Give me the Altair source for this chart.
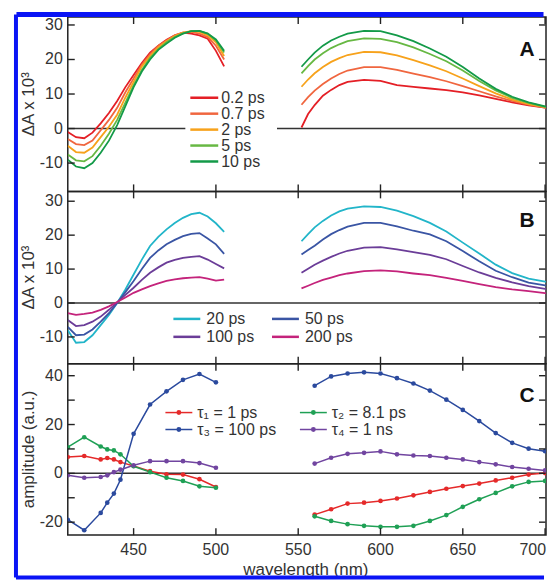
import altair as alt
import pandas as pd

FONT = "Liberation Sans"
TXT = "#333333"
FRAME = "#222222"

# ---------------- data ----------------
wl_left = [410, 415, 420, 425, 430, 435, 440, 445, 450, 455, 460, 465, 470, 475, 480, 485, 490, 495, 500, 505]
wl_right = [552, 556, 560, 565, 570, 575, 580, 590, 600, 610, 620, 630, 640, 650, 660, 670, 680, 690, 700, 710]

A_names = ["0.2 ps", "0.7 ps", "2 ps", "5 ps", "10 ps"]
A_colors = ["#e41f26", "#f0663f", "#f7a21b", "#67b843", "#139a48"]
A_left = {
    "0.2 ps": [-1, -2.5, -2.8, -1.2, 1.5, 4.5, 8, 12, 15.5, 19, 22, 24, 25.7, 27, 27.8, 27.5, 27, 26, 22.5, 18],
    "0.7 ps": [-3, -4.5, -4.8, -3.5, -0.5, 2.5, 6, 10.5, 14.5, 18.5, 21.5, 24, 25.5, 27, 27.8, 28, 27.5, 26.5, 24, 20],
    "2 ps": [-5, -6.8, -7, -5.5, -2.5, 0.5, 4, 9, 13.5, 18, 21, 23.5, 25.3, 26.8, 27.8, 28.2, 28, 27, 25, 21],
    "5 ps": [-7.5, -9.2, -9.5, -8, -5, -1.5, 2.5, 7.5, 12.5, 17, 20.5, 23, 25, 26.5, 27.6, 28.2, 28.3, 27.5, 25.5, 22],
    "10 ps": [-9, -11, -11.5, -10, -7, -3.5, 1, 6.5, 12, 16.5, 20, 22.8, 24.6, 26.3, 27.5, 28.2, 28.3, 27.5, 25.8, 22.5],
}
A_right = {
    "0.2 ps": [0.3, 4.2, 6.8, 9.5, 11.2, 12.6, 13.5, 14.1, 13.8, 12.6, 12.1, 11.6, 11.1, 10.5, 9.6, 8.6, 7.6, 6.7, 6.1, 5.8],
    "0.7 ps": [6.9, 9.1, 11, 12.9, 14.5, 15.8, 16.8, 17.8, 17.8, 17, 15.9, 14.9, 13.7, 12.3, 10.8, 9.3, 8, 6.9, 6.1, 5.8],
    "2 ps": [12.1, 14.2, 16, 17.8, 19.3, 20.4, 21.3, 22.2, 22.1, 21.2, 19.8, 18.3, 16.6, 14.5, 12.3, 10.2, 8.4, 7.1, 6.2, 5.8],
    "5 ps": [16, 18.1, 20, 21.8, 23.3, 24.4, 25.3, 26.1, 26, 25, 23.5, 21.6, 19.5, 16.8, 13.8, 11, 8.9, 7.4, 6.3, 5.8],
    "10 ps": [17.9, 20, 22, 24, 25.5, 26.6, 27.5, 28.3, 28.2, 27, 25.3, 23.2, 20.8, 17.8, 14.5, 11.5, 9.2, 7.6, 6.4, 5.8],
}

B_names = ["20 ps", "50 ps", "100 ps", "200 ps"]
B_colors = ["#22b5c9", "#3a55a4", "#6b3d98", "#c4237b"]
B_left = {
    "20 ps": [-8, -11.7, -11.5, -9.5, -6.5, -3.5, 0, 4, 8.4, 12.8, 16.8, 19.5, 21.7, 23.6, 25.1, 26.2, 26.6, 25.5, 23.5, 21],
    "50 ps": [-7, -9.5, -9.3, -7.8, -5.5, -3, 0, 3.2, 6.5, 10, 13.3, 15.5, 17.3, 18.6, 19.7, 20.4, 20.6, 19, 17.3, 14.5],
    "100 ps": [-5, -6.8, -6.5, -5.5, -4, -2, 0.2, 2.4, 4.5, 6.8, 8.9, 10.5, 11.9, 12.7, 13.3, 13.6, 13.8, 12.8, 11.5, 10.2],
    "200 ps": [-3, -3.5, -3.2, -2.8, -2, -1, 0.3, 1.6, 3, 4, 5, 5.8, 6.5, 7, 7.3, 7.5, 7.6, 7.2, 6.6, 6.9],
}
B_right = {
    "20 ps": [18.2, 20.3, 22.3, 24.2, 25.8, 27, 27.8, 28.5, 28.3, 27.2, 25.6, 23.6, 21.1, 17.8, 14.6, 11.3, 8.8, 7.2, 6.3, 5.8],
    "50 ps": [14.3, 15.6, 16.9, 18.7, 20.3, 21.5, 22.5, 23.6, 23.6, 22.6, 21.3, 20.2, 18.2, 15.3, 12.3, 9.5, 7.6, 6, 5.2, 4.8],
    "100 ps": [8.9, 10.1, 11.3, 12.5, 13.6, 14.6, 15.4, 16.3, 16.5, 15.8, 15, 14.2, 12.9, 10.9, 9, 7.4, 6.1, 5, 4.2, 3.8],
    "200 ps": [4.3, 5.1, 5.9, 6.8, 7.5, 8.2, 8.7, 9.4, 9.6, 9.3, 8.7, 8.2, 7.4, 6.5, 5.6, 4.7, 4, 3.5, 2.9, 2.6],
}

C_names = ["τ₁ = 1 ps", "τ₂ = 8.1 ps", "τ₃ = 100 ps", "τ₄ = 1 ns"]
C_colors = ["#e52a2a", "#1fa055", "#2b4a9e", "#7145a0"]
wl_C_left = [410, 420, 430, 434, 438, 442, 450, 460, 470, 480, 490, 500]
wl_C_right = [560, 570, 580, 590, 600, 610, 620, 630, 640, 650, 660, 670, 680, 690, 700, 710]
C_left = {
    "τ₁ = 1 ps": [6.7, 7.1, 5.7, 6.3, 5.7, 4.6, 3.0, 0.9, -0.4, -0.5, -2.4, -5.6],
    "τ₂ = 8.1 ps": [10.7, 14.8, 11, 9.8, 9.4, 7.8, 2.9, 0.5, -1.8, -3.1, -5.3, -5.9],
    "τ₃ = 100 ps": [-19, -23.3, -16.2, -12, -8.3, -2.6, 16.2, 28.2, 33.6, 38.3, 40.7, 37.3],
    "τ₄ = 1 ns": [-0.8, -1.8, -1.5, -0.8, 0.5, 1.5, 3.3, 5.0, 5.0, 5.0, 4.2, 2.3],
}
C_right = {
    "τ₁ = 1 ps": [-16.9, -14.7, -12.4, -12, -11.3, -10.3, -9, -7.6, -6.3, -5.2, -4.2, -2.9, -1.8, -0.5, 0.1, 0.3],
    "τ₂ = 8.1 ps": [-17.6, -19.5, -20.8, -21.5, -21.9, -21.9, -21.5, -19.5, -17.1, -13.7, -10.6, -8, -5.3, -3.5, -3.1, -1.8],
    "τ₃ = 100 ps": [35.9, 39.7, 40.9, 41.4, 40.9, 39, 36.8, 33.9, 30.2, 26, 21.4, 16.5, 12.5, 10.1, 9.1, 7.5],
    "τ₄ = 1 ns": [4.0, 6.4, 8.0, 8.4, 9.0, 7.8, 7.3, 7.1, 6.4, 5.7, 4.6, 3.7, 2.6, 1.9, 1.2, 0.5],
}

x_ticks = [450, 500, 550, 600, 650, 700]
x_label_vals = [450, 500, 550, 600, 650]
x_labels = ["450", "500", "550", "600", "650"]
x_last_label = "700"
yA_ticks = [-10, 0, 10, 20, 30]
yA_labels = ["-10", "0", "10", "20", "30"]
yB_ticks = [-10, 0, 10, 20, 30]
yB_labels = ["-10", "0", "10", "20", "30"]
yC_ticks = [-20, -10, 0, 10, 20, 30, 40]
yC_label_vals = [-20, 0, 20, 40]
yC_labels = ["-20", "0", "20", "40"]


def long_df(names, wl_l, left, wl_r, right):
    rows = []
    for n in names:
        for w, v in zip(wl_l, left[n]):
            rows.append({"series": n, "seg": n + "_L", "wl": w, "v": v})
        for w, v in zip(wl_r, right[n]):
            rows.append({"series": n, "seg": n + "_R", "wl": w, "v": v})
    return pd.DataFrame(rows)


dfA = long_df(A_names, wl_left, A_left, wl_right, A_right)
dfB = long_df(B_names, wl_left, B_left, wl_right, B_right)
dfC = long_df(C_names, wl_C_left, C_left, wl_C_right, C_right)

# ---------------- layout ----------------
W = 480
XS = alt.Scale(domain=[410, 700.56], nice=False, zero=False)
LABEL_FS = 16
LEG_FS = 16
TITLE_FS = 17
ONE = pd.DataFrame({"a": [0]})


def decorations(ys, h, yt, ylab_vals, ylab_txt, ytitle, letter, ly):
    xt = pd.DataFrame({"t": x_ticks})
    ytd = pd.DataFrame({"t": yt})
    tick = dict(color=FRAME, strokeWidth=1.4)
    top = alt.Chart(xt).mark_rule(**tick).encode(
        x=alt.X("t:Q", scale=XS, axis=None), y=alt.value(0), y2=alt.value(7))
    bot = alt.Chart(xt).mark_rule(**tick).encode(
        x=alt.X("t:Q", scale=XS, axis=None), y=alt.value(h - 7), y2=alt.value(h))
    left = alt.Chart(ytd).mark_rule(**tick).encode(
        y=alt.Y("t:Q", scale=ys, axis=None), x=alt.value(0), x2=alt.value(7))
    right = alt.Chart(ytd).mark_rule(**tick).encode(
        y=alt.Y("t:Q", scale=ys, axis=None), x=alt.value(W - 7), x2=alt.value(W - 0.5))
    zero = alt.Chart(pd.DataFrame({"z": [0]})).mark_rule(color=TXT, strokeWidth=1.5).encode(
        y=alt.Y("z:Q", scale=ys, axis=None))
    ylabels = alt.Chart(pd.DataFrame({"t": ylab_vals, "s": ylab_txt})).mark_text(
        font=FONT, fontSize=LABEL_FS, color=TXT, align="right", baseline="middle").encode(
        y=alt.Y("t:Q", scale=ys, axis=None), x=alt.value(-5), text="s:N")
    ytitle_m = alt.Chart(pd.DataFrame({"s": [ytitle]})).mark_text(
        font=FONT, fontSize=TITLE_FS, color=TXT, angle=270, align="center", baseline="middle").encode(
        text="s:N", x=alt.value(-39), y=alt.value(h / 2))
    lab = alt.Chart(pd.DataFrame({"t": [letter]})).mark_text(
        font=FONT, fontSize=21, fontWeight="bold", color="#111111").encode(
        text="t:N", x=alt.value(461), y=alt.value(ly))
    return zero, [top, bot, left, right, ylabels, ytitle_m, lab]


def legend(names, colors, col_x, line_len, gap, y0, dy, ncol, dot=False, sw=2.5):
    out = []
    for i, (n, c) in enumerate(zip(names, colors)):
        col, row = i % ncol, i // ncol
        x0 = col_x[col]
        y = y0 + row * dy
        out.append(alt.Chart(ONE).mark_rule(color=c, strokeWidth=sw).encode(
            x=alt.value(x0), x2=alt.value(x0 + line_len), y=alt.value(y)))
        if dot:
            out.append(alt.Chart(ONE).mark_point(filled=True, size=24, opacity=1, color=c).encode(
                x=alt.value(x0 + line_len / 2), y=alt.value(y)))
        out.append(alt.Chart(ONE).mark_text(text=n, font=FONT, fontSize=LEG_FS, color=TXT,
                                            align="left", baseline="middle").encode(
            x=alt.value(x0 + line_len + gap), y=alt.value(y + 0.5)))
    return out


def lines(df, names, colors, ys, sw):
    return alt.Chart(df).mark_line(strokeWidth=sw, clip=True).encode(
        x=alt.X("wl:Q", scale=XS, axis=None),
        y=alt.Y("v:Q", scale=ys, axis=None),
        color=alt.Color("series:N", scale=alt.Scale(domain=names, range=colors), sort=names, legend=None),
        detail="seg:N",
    )


# Panel A
hA = 175
ysA = alt.Scale(domain=[-18.2, 32.3], nice=False, zero=False)
legbox = alt.Chart(ONE).mark_rect(color="white").encode(
    x=alt.value(118), x2=alt.value(210), y=alt.value(72), y2=alt.value(154))
zA, decA = decorations(ysA, hA, yA_ticks, yA_ticks, yA_labels, "ΔA x 10³", "A", 33)
legA = legend(A_names, A_colors, [123], 28, 3, 81, 16, 1)
panelA = alt.layer(zA, legbox, lines(dfA, A_names, A_colors, ysA, 1.8), *decA, *legA
                   ).properties(width=W, height=hA)

# Panel B
hB = 173
ysB = alt.Scale(domain=[-17.9, 32.9], nice=False, zero=False)
zB, decB = decorations(ysB, hB, yB_ticks, yB_ticks, yB_labels, "ΔA x 10³", "B", 30)
legB = legend(B_names, B_colors, [106, 205], 27, 6, 128, 18, 2)
panelB = alt.layer(zB, lines(dfB, B_names, B_colors, ysB, 1.8), *decB, *legB).properties(width=W, height=hB)

# Panel C  (its top edge sits 348 px below panel A's top edge)
hC = 172
ysC = alt.Scale(domain=[-25.3, 44.9], nice=False, zero=False)
pointsC = alt.Chart(dfC).mark_point(filled=True, size=22, opacity=1, clip=True).encode(
    x=alt.X("wl:Q", scale=XS, axis=None),
    y=alt.Y("v:Q", scale=ysC, axis=None),
    color=alt.Color("series:N", scale=alt.Scale(domain=C_names, range=C_colors), sort=C_names, legend=None),
)
xlabels = alt.Chart(pd.DataFrame({"t": x_label_vals, "s": x_labels})).mark_text(
    font=FONT, fontSize=LABEL_FS, color=TXT, align="center", baseline="top").encode(
    x=alt.X("t:Q", scale=XS, axis=None), y=alt.value(hC + 7), text="s:N")
xlast = alt.Chart(ONE).mark_text(text=x_last_label, font=FONT, fontSize=LABEL_FS, color=TXT,
                                 align="right", baseline="top").encode(
    x=alt.value(W), y=alt.value(hC + 7))
xtitle = alt.Chart(pd.DataFrame({"s": ["wavelength (nm)"]})).mark_text(
    font=FONT, fontSize=TITLE_FS, color=TXT, align="center", baseline="alphabetic").encode(
    text="s:N", x=alt.value(239), y=alt.value(212.5))
blue = "#0a14f5"
frame_top = alt.Chart(ONE).mark_rule(color=blue, strokeWidth=5, clip=False).encode(
    x=alt.value(-51.5), x2=alt.value(477.5), y=alt.value(-350.5))
frame_left = alt.Chart(ONE).mark_rule(color=blue, strokeWidth=4, clip=False).encode(
    x=alt.value(-52), y=alt.value(-350.5), y2=alt.value(214.5))
frame_bot = alt.Chart(ONE).mark_rule(color=blue, strokeWidth=4, clip=False).encode(
    x=alt.value(-52), x2=alt.value(478), y=alt.value(214.5))
zC, decC = decorations(ysC, hC, yC_ticks, yC_label_vals, yC_labels, "amplitude (a.u.)", "C", 32)
legC = legend(C_names, C_colors, [98, 233], 27, 5, 49, 17, 2, dot=True, sw=1.5)
panelC = alt.layer(zC, lines(dfC, C_names, C_colors, ysC, 1.5), pointsC, *decC, *legC,
                   xlabels, xlast, xtitle, frame_top, frame_left, frame_bot).properties(width=W, height=hC)

chart = alt.vconcat(panelA, panelB, panelC, spacing=0, bounds="flush").resolve_scale(
    color="independent", y="independent", x="independent"
).properties(
    padding={"left": 5, "top": 2, "right": 0, "bottom": 0}, background="white"
).configure_view(stroke=FRAME, strokeWidth=1.5)

chart.save("out.html", embed_options={"renderer": "svg", "actions": False})
